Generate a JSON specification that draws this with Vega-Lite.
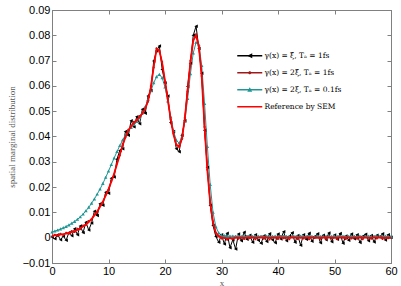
{
"$schema":"https://vega.github.io/schema/vega-lite/v6.json",
"autosize":{"type":"none"},
"padding":{"left":52,"top":10,"right":10,"bottom":23},
"width":339,"height":253,
"config":{
 "view":{"stroke":"#808080","strokeWidth":1},
 "axis":{"domainColor":"#808080","tickColor":"#808080","labelFont":"Liberation Sans","labelFontSize":11,"labelColor":"#000000","labelFlush":false,"labelOverlap":false,"titleFont":"Liberation Serif","titleFontSize":9,"titleFontWeight":"normal","titleColor":"#555555","grid":false,"tickSize":-4,"labelPadding":6}
},
"data":{"values":[
{"x":0,"a":0.0003,"b":0.0005,"c":0.0022,"d":0.0008},
{"x":0.5,"a":-0.0004,"b":0.0012,"c":0.0026,"d":0.0009},
{"x":1,"a":0.0012,"b":0.0007,"c":0.0030,"d":0.0010},
{"x":1.5,"a":-0.0008,"b":0.0015,"c":0.0034,"d":0.0012},
{"x":2,"a":0.0006,"b":0.0011,"c":0.0039,"d":0.0014},
{"x":2.5,"a":-0.0010,"b":0.0019,"c":0.0044,"d":0.0016},
{"x":3,"a":0.0021,"b":0.0016,"c":0.0050,"d":0.0019},
{"x":3.5,"a":0.0008,"b":0.0026,"c":0.0057,"d":0.0022},
{"x":4,"a":0.0035,"b":0.0023,"c":0.0064,"d":0.0026},
{"x":4.5,"a":0.0012,"b":0.0035,"c":0.0072,"d":0.0031},
{"x":5,"a":0.0046,"b":0.0034,"c":0.0082,"d":0.0037},
{"x":5.5,"a":0.0020,"b":0.0048,"c":0.0093,"d":0.0044},
{"x":6,"a":0.0061,"b":0.0050,"c":0.0106,"d":0.0052},
{"x":6.5,"a":0.0030,"b":0.0066,"c":0.0120,"d":0.0062},
{"x":7,"a":0.0058,"b":0.0071,"c":0.0136,"d":0.0074},
{"x":7.5,"a":0.0105,"b":0.0092,"c":0.0153,"d":0.0088},
{"x":8,"a":0.0088,"b":0.0101,"c":0.0172,"d":0.0104},
{"x":8.5,"a":0.0134,"b":0.0126,"c":0.0192,"d":0.0122},
{"x":9,"a":0.0128,"b":0.0140,"c":0.0214,"d":0.0143},
{"x":9.5,"a":0.0180,"b":0.0170,"c":0.0238,"d":0.0166},
{"x":10,"a":0.0176,"b":0.0189,"c":0.0263,"d":0.0192},
{"x":10.5,"a":0.0235,"b":0.0225,"c":0.0289,"d":0.0221},
{"x":11,"a":0.0240,"b":0.0251,"c":0.0315,"d":0.0254},
{"x":11.5,"a":0.0310,"b":0.0294,"c":0.0340,"d":0.0290},
{"x":12,"a":0.0345,"b":0.0325,"c":0.0364,"d":0.0328},
{"x":12.5,"a":0.0352,"b":0.0370,"c":0.0386,"d":0.0366},
{"x":13,"a":0.0420,"b":0.0396,"c":0.0405,"d":0.0398},
{"x":13.5,"a":0.0405,"b":0.0427,"c":0.0421,"d":0.0423},
{"x":14,"a":0.0462,"b":0.0439,"c":0.0435,"d":0.0441},
{"x":14.5,"a":0.0438,"b":0.0458,"c":0.0447,"d":0.0454},
{"x":15,"a":0.0478,"b":0.0463,"c":0.0459,"d":0.0465},
{"x":15.5,"a":0.0450,"b":0.0481,"c":0.0474,"d":0.0477},
{"x":16,"a":0.0508,"b":0.0490,"c":0.0493,"d":0.0492},
{"x":16.5,"a":0.0492,"b":0.0514,"c":0.0517,"d":0.0510},
{"x":17,"a":0.0560,"b":0.0538,"c":0.0546,"d":0.0540},
{"x":17.5,"a":0.0582,"b":0.0599,"c":0.0580,"d":0.0595},
{"x":18,"a":0.0698,"b":0.0673,"c":0.0612,"d":0.0675},
{"x":18.5,"a":0.0738,"b":0.0749,"c":0.0636,"d":0.0745},
{"x":19,"a":0.0758,"b":0.0738,"c":0.0645,"d":0.0740},
{"x":19.5,"a":0.0665,"b":0.0694,"c":0.0632,"d":0.0690},
{"x":20,"a":0.0612,"b":0.0618,"c":0.0595,"d":0.0620},
{"x":20.5,"a":0.0560,"b":0.0549,"c":0.0540,"d":0.0545},
{"x":21,"a":0.0455,"b":0.0468,"c":0.0478,"d":0.0470},
{"x":21.5,"a":0.0420,"b":0.0412,"c":0.0422,"d":0.0408},
{"x":22,"a":0.0352,"b":0.0366,"c":0.0385,"d":0.0368},
{"x":22.5,"a":0.0340,"b":0.0362,"c":0.0374,"d":0.0358},
{"x":23,"a":0.0405,"b":0.0390,"c":0.0398,"d":0.0392},
{"x":23.5,"a":0.0462,"b":0.0474,"c":0.0460,"d":0.0470},
{"x":24,"a":0.0598,"b":0.0578,"c":0.0550,"d":0.0580},
{"x":24.5,"a":0.0690,"b":0.0699,"c":0.0648,"d":0.0695},
{"x":25,"a":0.0800,"b":0.0778,"c":0.0730,"d":0.0780},
{"x":25.5,"a":0.0836,"b":0.0804,"c":0.0772,"d":0.0800},
{"x":26,"a":0.0748,"b":0.0753,"c":0.0762,"d":0.0755},
{"x":26.5,"a":0.0650,"b":0.0639,"c":0.0680,"d":0.0635},
{"x":27,"a":0.0425,"b":0.0438,"c":0.0530,"d":0.0440},
{"x":27.5,"a":0.0278,"b":0.0269,"c":0.0360,"d":0.0265},
{"x":28,"a":0.0128,"b":0.0138,"c":0.0210,"d":0.0140},
{"x":28.5,"a":0.0048,"b":0.0064,"c":0.0100,"d":0.0060},
{"x":29,"a":0.0005,"b":0.0018,"c":0.0043,"d":0.0020},
{"x":29.5,"a":-0.0018,"b":0.0009,"c":0.0019,"d":0.0005},
{"x":30,"a":0.0012,"b":-0.0003,"c":0.0010,"d":0.0000},
{"x":30.5,"a":-0.0025,"b":0.0004,"c":0.0008,"d":-0.0002},
{"x":31,"a":0.0018,"b":-0.0008,"c":0.0007,"d":-0.0003},
{"x":31.5,"a":-0.0040,"b":0.0002,"c":0.0006,"d":-0.0003},
{"x":32,"a":-0.0008,"b":-0.0006,"c":0.0006,"d":-0.0002},
{"x":32.5,"a":-0.0045,"b":0.0005,"c":0.0005,"d":-0.0001},
{"x":33,"a":0.0015,"b":-0.0004,"c":0.0006,"d":0.0000},
{"x":33.5,"a":-0.0012,"b":0.0003,"c":0.0005,"d":0.0000},
{"x":34,"a":0.0022,"b":-0.0005,"c":0.0006,"d":-0.0001},
{"x":34.5,"a":-0.0006,"b":0.0006,"c":0.0005,"d":0.0000},
{"x":35,"a":0.0010,"b":-0.0002,"c":0.0006,"d":0.0001},
{"x":35.5,"a":-0.0018,"b":0.0004,"c":0.0005,"d":0.0000},
{"x":36,"a":0.0012,"b":-0.0006,"c":0.0005,"d":-0.0001},
{"x":36.5,"a":-0.0010,"b":0.0002,"c":0.0006,"d":0.0000},
{"x":37,"a":-0.0022,"b":0.0005,"c":0.0005,"d":0.0000},
{"x":37.5,"a":0.0008,"b":-0.0004,"c":0.0005,"d":0.0001},
{"x":38,"a":-0.0015,"b":0.0003,"c":0.0006,"d":0.0000},
{"x":38.5,"a":0.0016,"b":-0.0007,"c":0.0005,"d":-0.0001},
{"x":39,"a":-0.0008,"b":0.0004,"c":0.0005,"d":0.0000},
{"x":39.5,"a":-0.0020,"b":0.0001,"c":0.0006,"d":0.0000},
{"x":40,"a":0.0015,"b":-0.0005,"c":0.0005,"d":0.0001},
{"x":40.5,"a":-0.0005,"b":0.0006,"c":0.0005,"d":0.0000},
{"x":41,"a":0.0024,"b":-0.0002,"c":0.0006,"d":0.0000},
{"x":41.5,"a":-0.0012,"b":0.0003,"c":0.0005,"d":-0.0001},
{"x":42,"a":0.0006,"b":-0.0006,"c":0.0005,"d":0.0000},
{"x":42.5,"a":0.0020,"b":0.0004,"c":0.0006,"d":0.0001},
{"x":43,"a":-0.0018,"b":0.0002,"c":0.0005,"d":0.0000},
{"x":43.5,"a":0.0009,"b":-0.0005,"c":0.0005,"d":0.0000},
{"x":44,"a":-0.0030,"b":0.0005,"c":0.0006,"d":-0.0001},
{"x":44.5,"a":0.0012,"b":-0.0003,"c":0.0005,"d":0.0000},
{"x":45,"a":-0.0006,"b":0.0002,"c":0.0005,"d":0.0000},
{"x":45.5,"a":0.0018,"b":-0.0006,"c":0.0006,"d":0.0001},
{"x":46,"a":-0.0014,"b":0.0004,"c":0.0005,"d":0.0000},
{"x":46.5,"a":0.0004,"b":-0.0001,"c":0.0005,"d":0.0000},
{"x":47,"a":0.0016,"b":0.0005,"c":0.0006,"d":-0.0001},
{"x":47.5,"a":-0.0020,"b":-0.0004,"c":0.0005,"d":0.0000},
{"x":48,"a":0.0010,"b":0.0003,"c":0.0005,"d":0.0000},
{"x":48.5,"a":-0.0008,"b":-0.0005,"c":0.0006,"d":0.0001},
{"x":49,"a":0.0019,"b":0.0006,"c":0.0005,"d":0.0000},
{"x":49.5,"a":-0.0016,"b":-0.0002,"c":0.0005,"d":0.0000},
{"x":50,"a":0.0011,"b":0.0003,"c":0.0006,"d":-0.0001},
{"x":50.5,"a":-0.0006,"b":-0.0006,"c":0.0005,"d":0.0000},
{"x":51,"a":0.0017,"b":0.0004,"c":0.0005,"d":0.0000},
{"x":51.5,"a":-0.0022,"b":0.0001,"c":0.0006,"d":0.0001},
{"x":52,"a":0.0007,"b":-0.0005,"c":0.0005,"d":0.0000},
{"x":52.5,"a":-0.0010,"b":0.0004,"c":0.0005,"d":0.0000},
{"x":53,"a":0.0015,"b":-0.0003,"c":0.0006,"d":-0.0001},
{"x":53.5,"a":-0.0004,"b":0.0005,"c":0.0005,"d":0.0000},
{"x":54,"a":0.0012,"b":-0.0004,"c":0.0005,"d":0.0000},
{"x":54.5,"a":-0.0019,"b":0.0002,"c":0.0006,"d":0.0001},
{"x":55,"a":0.0006,"b":-0.0006,"c":0.0005,"d":0.0000},
{"x":55.5,"a":0.0014,"b":0.0004,"c":0.0005,"d":0.0000},
{"x":56,"a":-0.0012,"b":0.0001,"c":0.0006,"d":-0.0001},
{"x":56.5,"a":0.0009,"b":-0.0004,"c":0.0005,"d":0.0000},
{"x":57,"a":-0.0017,"b":0.0005,"c":0.0005,"d":0.0000},
{"x":57.5,"a":0.0010,"b":-0.0003,"c":0.0006,"d":0.0001},
{"x":58,"a":0.0003,"b":0.0003,"c":0.0005,"d":0.0000},
{"x":58.5,"a":0.0016,"b":-0.0005,"c":0.0005,"d":0.0000},
{"x":59,"a":-0.0009,"b":0.0004,"c":0.0006,"d":-0.0001},
{"x":59.5,"a":0.0012,"b":-0.0002,"c":0.0005,"d":0.0000},
{"x":60,"a":0.0002,"b":0.0002,"c":0.0005,"d":0.0000}
]},
"layer":[
 {
  "transform":[{"fold":["a","b","c"],"as":["s","y"]}],
  "mark":{"type":"line"},
  "encoding":{
   "x":{"field":"x","type":"quantitative","scale":{"domain":[0,60],"nice":false},"axis":{"orient":"bottom","values":[0,10,20,30,40,50,60],"title":"x","titlePadding":2}},
   "y":{"field":"y","type":"quantitative","scale":{"domain":[-0.01,0.09],"nice":false},"axis":{"orient":"left","values":[-0.01,0,0.01,0.02,0.03,0.04,0.05,0.06,0.07,0.08,0.09],"format":".2~f","title":"spatial marginal distribution","titlePadding":6}},
   "color":{"field":"s","type":"nominal","scale":{"domain":["a","b","c","d"],"range":["#000000","#a01818","#1f9696","#ff0000"]},
     "legend":{"orient":"none","legendX":185,"legendY":42,"title":null,"padding":0,"symbolType":"M-5,0L5,0","symbolSize":25,"symbolStrokeWidth":1.5,"symbolOffset":9,"labelOffset":11,"labelFont":"DejaVu Serif","labelFontSize":7.5,"labelColor":"#000000","rowPadding":8,
       "labelExpr":"datum.value == 'a' ? 'γ(x) = ξ̃, Tₐ = 1fs' : datum.value == 'b' ? 'γ(x) = 2ξ̃, Tₐ = 1fs' : datum.value == 'c' ? 'γ(x) = 2ξ, Tₐ = 0.1fs' : 'Reference by SEM'"}},
   "strokeWidth":{"field":"s","type":"nominal","scale":{"domain":["a","b","c","d"],"range":[1,1,1.2,1.8]},"legend":null}
  }
 },
 {
  "transform":[{"fold":["a","b","c"],"as":["s","y"]}],
  "mark":{"type":"point","filled":true,"size":12,"opacity":1},
  "encoding":{
   "x":{"field":"x","type":"quantitative","scale":{"domain":[0,60],"nice":false},"axis":{"orient":"top","values":[0,10,20,30,40,50,60],"labels":false,"title":null}},
   "y":{"field":"y","type":"quantitative","scale":{"domain":[-0.01,0.09],"nice":false},"axis":{"orient":"right","values":[-0.01,0,0.01,0.02,0.03,0.04,0.05,0.06,0.07,0.08,0.09],"labels":false,"title":null}},
   "color":{"field":"s","type":"nominal","scale":{"domain":["a","b","c","d"],"range":["#000000","#a01818","#1f9696","#ff0000"]},
     "legend":{"orient":"none","legendX":185,"legendY":42,"title":null,"padding":0,"symbolSize":25,"symbolStrokeWidth":1.5,"symbolOffset":9,"labelOffset":11,"labelFont":"DejaVu Serif","labelFontSize":7.5,"labelExpr":"''","rowPadding":8}},
   "shape":{"field":"s","type":"nominal","scale":{"domain":["a","b","c","d"],"range":["M-1,0L1,-1L1,1Z","M-0.6,0A0.6,0.6 0 1,0 0.6,0A0.6,0.6 0 1,0 -0.6,0","M0,-1L1,0.8L-1,0.8Z","M0,0"]},
     "legend":{"orient":"none","legendX":185,"legendY":42,"title":null,"padding":0,"symbolSize":25,"symbolStrokeWidth":1.5,"symbolOffset":9,"labelOffset":11,"labelFont":"DejaVu Serif","labelFontSize":7.5,"labelExpr":"''","rowPadding":8}}
  }
 },
 {
  "transform":[{"fold":["d"],"as":["s","y"]}],
  "mark":{"type":"line","strokeWidth":1.8},
  "encoding":{
   "x":{"field":"x","type":"quantitative","scale":{"domain":[0,60],"nice":false},"axis":null},
   "y":{"field":"y","type":"quantitative","scale":{"domain":[-0.01,0.09],"nice":false},"axis":null},
   "color":{"field":"s","type":"nominal","scale":{"domain":["a","b","c","d"],"range":["#000000","#a01818","#1f9696","#ff0000"]},"legend":null}
  }
 }
],
"resolve":{"scale":{"color":"independent","shape":"independent"},"axis":{"x":"independent","y":"independent"},"legend":{"color":"independent","shape":"independent"}}
}
